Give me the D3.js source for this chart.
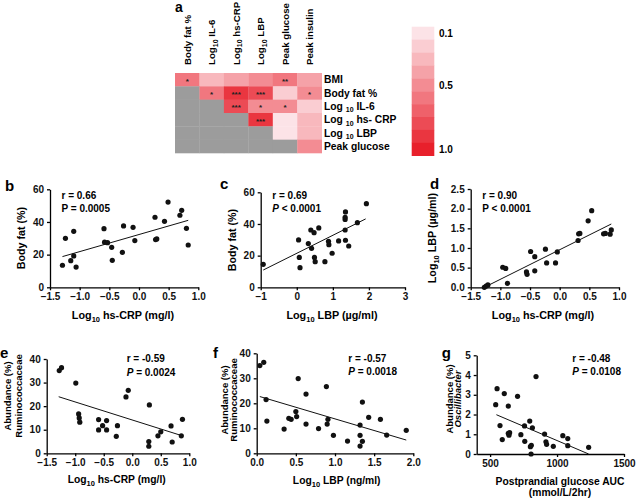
<!DOCTYPE html>
<html>
<head>
<meta charset="utf-8">
<script src="https://cdn.jsdelivr.net/npm/d3@7"></script>
<style>
  body { margin: 0; background: #fff; }
  text { font-family: "Liberation Sans", Arial, sans-serif; font-weight: bold; }
</style>
</head>
<body>
<script>
// ---- panel a: correlation heatmap ----
var heatCols = ["Body fat %", "Log|10| IL-6", "Log|10| hs-CRP", "Log|10| LBP", "Peak glucose", "Peak insulin"];
var heatRows = ["BMI", "Body fat %", "Log |10| IL-6", "Log |10| hs- CRP", "Log |10| LBP", "Peak glucose"];
var heatValues = [
    [0.6, 0.3, 0.4, 0.45, 0.6, 0.4],
    [null, 0.55, 0.85, 0.8, 0.2, 0.5],
    [null, null, 0.8, 0.5, 0.5, 0.2],
    [null, null, null, 0.9, 0.1, 0.3],
    [null, null, null, null, 0.1, 0.3],
    [null, null, null, null, null, 0.45]
];
var heatStars = [
    ["*", "", "", "", "**", ""],
    ["", "*", "***", "***", "", "*"],
    ["", "", "***", "*", "*", ""],
    ["", "", "", "***", "", ""],
    ["", "", "", "", "", ""],
    ["", "", "", "", "", ""]
];
var legendSteps = [0.1, 0.2, 0.3, 0.4, 0.5, 0.6, 0.7, 0.8, 0.9, 1.0];
var legendLabels = [0.1, 0.5, 1.0];

// ---- scatter panels ----
var bPoints = [[-1.29,13.5],[-1.24,30.0],[-1.10,34.3],[-1.15,16.3],[-1.10,19.2],[-1.06,12.4],[-0.59,35.9],[-0.58,27.6],
    [-0.53,27.3],[-0.46,24.5],[-0.45,16.5],[-0.28,21.4],[-0.26,37.6],[-0.10,36.7],[-0.07,28.6],[0.27,42.9],[0.28,29.2],
    [0.30,29.6],[0.43,40.4],[0.49,52.2],[0.69,44.1],[0.72,47.1],[0.80,36.1],[0.83,25.9]];
var bFit = [[-1.29,18.8],[0.83,41.0]];

var cPoints = [[-0.93,14.5],[0.05,29.9],[0.07,18.9],[0.09,12.4],[0.32,27.6],[0.39,36.2],[0.41,24.6],[0.48,34.5],
    [0.49,18.9],[0.51,16.2],[0.61,37.5],[0.78,16.2],[0.88,29.1],[0.89,26.9],[0.98,21.5],[1.16,29.3],[1.34,42.9],
    [1.34,44.2],[1.34,36.2],[1.35,47.6],[1.35,29.7],[1.44,26.1],[1.68,40.8],[1.93,52.8]];
var cFit = [[-0.93,10.9],[1.91,43.2]];

var dPoints = [[-1.27,0.0],[-1.24,0.03],[-1.21,0.06],[-0.96,0.51],[-0.91,0.48],[-0.88,0.10],[-0.56,0.39],[-0.55,0.33],
    [-0.49,0.91],[-0.42,0.78],[-0.42,0.42],[-0.24,0.97],[-0.22,0.62],[-0.07,0.62],[-0.04,0.90],[0.31,1.19],[0.32,1.36],
    [0.34,1.37],[0.48,1.69],[0.54,1.95],[0.74,1.36],[0.77,1.37],[0.85,1.35],[0.87,1.46]];
var dFit = [[-1.27,0.0],[0.87,1.61]];

var ePoints = [[-1.28,35.1],[-1.24,36.3],[-0.99,29.8],[-0.94,16.7],[-0.93,15.0],[-0.92,13.2],[-0.59,14.3],[-0.59,9.9],
    [-0.52,11.7],[-0.45,13.9],[-0.45,9.9],[-0.26,11.7],[-0.28,7.2],[-0.11,23.9],[-0.07,26.7],[0.30,20.5],[0.29,5.0],
    [0.29,3.0],[0.45,7.4],[0.50,9.1],[0.68,11.6],[0.70,4.8],[0.86,7.4],[0.88,14.4]];
var eFit = [[-1.29,24.0],[0.88,7.4]];

var fPoints = [[0.04,35.1],[0.09,36.4],[0.12,21.5],[0.13,12.9],[0.35,9.7],[0.41,14.0],[0.44,13.6],[0.50,16.7],
    [0.51,14.7],[0.53,29.9],[0.63,23.7],[0.63,11.7],[0.79,9.9],[0.89,26.7],[0.90,11.7],[0.91,13.6],[0.98,7.2],
    [1.16,4.9],[1.32,11.3],[1.32,7.2],[1.32,2.9],[1.35,20.5],[1.35,4.8],[1.43,14.4],[1.58,13.6],[1.66,7.3],[1.91,9.2]];
var fFit = [[0.04,22.7],[1.91,5.3]];

var gPoints = [[542,2.50],[552,3.31],[574,1.44],[591,0.73],[606,3.06],[636,2.43],[636,1.05],[641,0.95],[646,1.08],
    [705,2.92],[730,0.98],[757,1.42],[759,0.64],[796,1.67],[801,0.37],[808,0.44],[806,0.0],[816,1.33],[843,3.92],
    [907,1.01],[917,0.62],[922,0.49],[972,0.39],[1043,0.93],[1080,0.78],[1080,0.42],[1236,0.34]];
var gFit = [[547,1.99],[1236,0.0]];

var crpTicks = [-1.5, -1.0, -0.5, 0.0, 0.5, 1.0];
var lbpTicks = [-1, 0, 1, 2, 3];
var lbp2Ticks = [0.0, 0.5, 1.0, 1.5, 2.0];
var aucTicks = [500, 1000, 1500];
var fatTicks = [0, 20, 40, 60];
var lbpYTicks = [0.0, 0.5, 1.0, 1.5, 2.0, 2.5];
var abundTicks = [0, 10, 20, 30, 40];
var oscTicks = [0, 1, 2, 3, 4, 5];

var width = 636;
var height = 501;
var svg = d3.select("body").append("svg")
    .attr("width", width)
    .attr("height", height);

// text with "|sub|" subscripts
function richText(sel, label, subSize) {
    var parts = label.split("|");
    parts.forEach(function(p, i) {
        var t = sel.append("tspan").text(p);
        if (i % 2 === 1) t.attr("font-size", subSize).attr("dy", 2.5);
        else if (i > 0) t.attr("dy", -2.5);
    });
    return sel;
}

// ---- heatmap ----
var hx = d3.scaleBand().domain(d3.range(6)).range([175, 321.7]);
var hy = d3.scaleBand().domain(d3.range(6)).range([73, 153]);
var heatColor = function(v) {
    return d3.interpolateRgb("#fce3e7", "#e8202b")((v - 0.1) / 0.9);
};

var cells = [];
heatValues.forEach(function(row, i) {
    row.forEach(function(v, j) {
        cells.push({ r: i, c: j, v: v, s: heatStars[i][j] });
    });
});

svg.selectAll("rect.cell")
    .data(cells)
    .enter()
    .append("rect")
    .attr("class", "cell")
    .attr("x", function(d) { return hx(d.c); })
    .attr("y", function(d) { return hy(d.r); })
    .attr("width", hx.bandwidth() + 0.3)
    .attr("height", hy.bandwidth() + 0.3)
    .attr("fill", function(d) {
        return d.v === null ? "#9c9c9c" : heatColor(Math.round(d.v * 10) / 10);
    });

svg.selectAll("text.star")
    .data(cells.filter(function(d) { return d.s; }))
    .enter()
    .append("text")
    .attr("class", "star")
    .attr("x", function(d) { return hx(d.c) + hx.bandwidth() / 2; })
    .attr("y", function(d) { return hy(d.r) + hy.bandwidth() / 2 + 4; })
    .attr("text-anchor", "middle")
    .attr("font-size", "8px")
    .attr("fill", "#222")
    .text(function(d) { return d.s; });

heatCols.forEach(function(c, j) {
    var t = svg.append("text")
        .attr("transform", "translate(" + (hx(j) + hx.bandwidth() / 2 + 3.5) + ",65) rotate(-90)")
        .attr("font-size", "9.7px");
    richText(t, c, "7px");
});

heatRows.forEach(function(r, i) {
    var t = svg.append("text")
        .attr("x", 324)
        .attr("y", hy(i) + hy.bandwidth() / 2 + 3.5)
        .attr("font-size", "10.3px");
    richText(t, r, "7px");
});

svg.append("text").attr("x", 175).attr("y", 11.5).attr("font-size", "14px").text("a");

// legend
var ly = d3.scaleBand().domain(legendSteps).range([26.7, 155.7]);
svg.selectAll("rect.leg")
    .data(legendSteps)
    .enter()
    .append("rect")
    .attr("class", "leg")
    .attr("x", 411.7)
    .attr("y", function(d) { return ly(d); })
    .attr("width", 22.6)
    .attr("height", ly.bandwidth() + 0.3)
    .attr("fill", function(d) { return heatColor(d); });

svg.selectAll("text.leglab")
    .data(legendLabels)
    .enter()
    .append("text")
    .attr("class", "leglab")
    .attr("x", 439)
    .attr("y", function(d) { return ly(d) + ly.bandwidth() / 2 + 4; })
    .attr("font-size", "10px")
    .text(function(d) { return d.toFixed(1); });

// ---- scatter panel helper ----
function panel(o) {
    var x = d3.scaleLinear().domain(o.xDomain).range([o.left, o.right]);
    var y = d3.scaleLinear().domain(o.yDomain).range([o.bottom, o.top]);

    var gx = svg.append("g")
        .attr("transform", "translate(0," + o.bottom + ")")
        .call(d3.axisBottom(x).tickValues(o.xTicks).tickFormat(o.xFmt).tickSize(3).tickSizeOuter(0));
    var gy = svg.append("g")
        .attr("transform", "translate(" + o.left + ",0)")
        .call(d3.axisLeft(y).tickValues(o.yTicks).tickFormat(o.yFmt).tickSize(3).tickSizeOuter(0));
    [gx, gy].forEach(function(g) {
        g.attr("font-family", null).attr("font-size", "10px");
        g.select(".domain").attr("stroke-width", 1.3);
        g.selectAll(".tick line").attr("stroke-width", 1.3);
        g.selectAll(".tick text").attr("fill", "#111");
    });

    svg.append("path")
        .datum(o.fit)
        .attr("d", d3.line().x(function(d) { return x(d[0]); }).y(function(d) { return y(d[1]); }))
        .attr("stroke", "#111")
        .attr("stroke-width", 1)
        .attr("fill", "none");

    svg.append("g")
        .selectAll("circle")
        .data(o.points)
        .enter()
        .append("circle")
        .attr("cx", function(d) { return x(d[0]); })
        .attr("cy", function(d) { return y(d[1]); })
        .attr("r", 2.6)
        .attr("fill", "#111");

    svg.append("text").attr("x", o.letter[1]).attr("y", o.letter[2])
        .attr("font-size", "15px").text(o.letter[0]);

    svg.append("text").attr("x", o.stat[0]).attr("y", o.stat[1])
        .attr("font-size", "10px").text(o.r);
    var p = svg.append("text").attr("x", o.stat[0]).attr("y", o.stat[1] + 13.5)
        .attr("font-size", "10px");
    p.append("tspan").attr("font-style", o.italicP ? "italic" : null).text("P");
    p.append("tspan").text(o.p);

    o.yLabel.forEach(function(l) {
        var t = svg.append("text")
            .attr("transform", "translate(" + l[1] + "," + o.yLabelMid + ") rotate(-90)")
            .attr("text-anchor", "middle")
            .attr("font-size", o.yLabelSize)
            .attr("font-style", l[2] ? "italic" : null);
        richText(t, l[0], "7.5px");
    });

    o.xLabel.forEach(function(l) {
        var t = svg.append("text")
            .attr("x", o.xLabelMid)
            .attr("y", l[1])
            .attr("text-anchor", "middle")
            .attr("font-size", o.xLabelSize);
        richText(t, l[0], "7.5px");
    });
}

var f1 = d3.format(".1f");
var f0 = d3.format("d");

panel({ xDomain: [-1.5, 1.0], yDomain: [0, 60], left: 50, right: 198.3, top: 189.3, bottom: 287.3,
    xTicks: crpTicks, yTicks: fatTicks, xFmt: f1, yFmt: f0, points: bPoints, fit: bFit,
    letter: ["b", 5, 190.5], stat: [61.5, 198.5], r: "r = 0.66", p: " = 0.0005", italicP: false,
    yLabel: [["Body fat (%)", 25]], yLabelMid: 238, yLabelSize: "10.7px",
    xLabel: [["Log|10| hs-CRP (mg/l)", 319]], xLabelMid: 123, xLabelSize: "10.8px" });

panel({ xDomain: [-1, 3], yDomain: [0, 60], left: 260.7, right: 405, top: 192.3, bottom: 287.3,
    xTicks: lbpTicks, yTicks: fatTicks, xFmt: f0, yFmt: f0, points: cPoints, fit: cFit,
    letter: ["c", 220, 189.3], stat: [272.3, 198.5], r: "r = 0.69", p: " < 0.0001", italicP: true,
    yLabel: [["Body fat (%)", 236]], yLabelMid: 240, yLabelSize: "10.7px",
    xLabel: [["Log|10| LBP (\u00b5g/ml)", 319]], xLabelMid: 332, xLabelSize: "10.8px" });

panel({ xDomain: [-1.5, 1.0], yDomain: [0, 2.5], left: 470.7, right: 619, top: 189, bottom: 287.3,
    xTicks: crpTicks, yTicks: lbpYTicks, xFmt: f1, yFmt: f1, points: dPoints, fit: dFit,
    letter: ["d", 430, 189.3], stat: [482.3, 198.5], r: "r = 0.90", p: " < 0.0001", italicP: false,
    yLabel: [["Log|10| LBP (\u00b5g/ml)", 436]], yLabelMid: 238, yLabelSize: "10.7px",
    xLabel: [["Log|10| hs-CRP (mg/l)", 319]], xLabelMid: 543, xLabelSize: "10.8px" });

panel({ xDomain: [-1.5, 1.0], yDomain: [0, 40], left: 46.7, right: 189.3, top: 359, bottom: 453.3,
    xTicks: crpTicks, yTicks: abundTicks, xFmt: f1, yFmt: f0, points: ePoints, fit: eFit,
    letter: ["e", 0, 358.3], stat: [126.7, 362.3], r: "r = -0.59", p: " = 0.0024", italicP: true,
    yLabel: [["Abundance (%)", 11], ["Ruminococcaceae", 21.5]], yLabelMid: 396, yLabelSize: "9.5px",
    xLabel: [["Log|10| hs-CRP (mg/l)", 483.3]], xLabelMid: 116.7, xLabelSize: "10.3px" });

panel({ xDomain: [0.0, 2.0], yDomain: [0, 40], left: 256.7, right: 413.3, top: 353.3, bottom: 453.3,
    xTicks: lbp2Ticks, yTicks: abundTicks, xFmt: f1, yFmt: f0, points: fPoints, fit: fFit,
    letter: ["f", 213, 358], stat: [348.3, 361.7], r: "r = -0.57", p: " = 0.0018", italicP: true,
    yLabel: [["Abundance (%)", 228], ["Ruminococcaceae", 236.5]], yLabelMid: 400, yLabelSize: "9.5px",
    xLabel: [["Log|10| LBP (ng/ml)", 484.3]], xLabelMid: 336.7, xLabelSize: "10.3px" });

panel({ xDomain: [400, 1500], yDomain: [0, 5], left: 476.7, right: 624, top: 355.3, bottom: 454,
    xTicks: aucTicks, yTicks: oscTicks, xFmt: f0, yFmt: f0, points: gPoints, fit: gFit,
    letter: ["g", 441.7, 358.3], stat: [572.3, 361.7], r: "r = -0.48", p: " = 0.0108", italicP: true,
    yLabel: [["Abundance (%)", 452.5], ["Oscillibacter", 460.5, true]], yLabelMid: 399, yLabelSize: "9.5px",
    xLabel: [["Postprandial glucose AUC", 485], ["(mmol/L/2hr)", 496]], xLabelMid: 560, xLabelSize: "10.3px" });
</script>
</body>
</html>
